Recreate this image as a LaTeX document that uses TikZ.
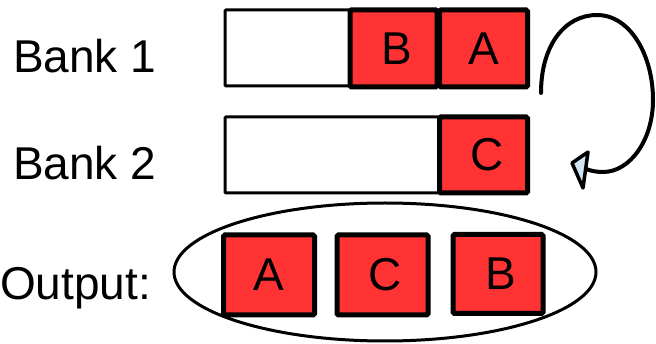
\documentclass[tikz,border=0pt]{standalone}
\usepackage{fontspec}
\setmainfont{Liberation Sans}
\usetikzlibrary{shapes.geometric}
\definecolor{cellred}{HTML}{FF3333}
\definecolor{tipblue}{HTML}{CFE3F2}
\begin{document}
\begin{tikzpicture}[x=1pt,y=-1pt,
  every node/.style={inner sep=0pt,outer sep=0pt},
  label/.style={font=\fontsize{46}{50}\selectfont,anchor=base west},
  bankbox/.style={draw,line width=3pt,fill=white,rounded corners=1pt},
  cell/.style={draw,line width=5pt,fill=cellred,rounded corners=1.5pt,
    font=\fontsize{46}{50}\selectfont},
  loop/.style={line width=4pt,line cap=round},
  tip/.style={draw,line width=3.5pt,line join=round,fill=tipblue}]
\useasboundingbox (0,0) rectangle (656,344);

% row labels
\node[label] (l1) at (13,73) {Bank 1};
\node[label] (l2) at (13,180) {Bank 2};
\node[label] (l3) at (0,300) {Output:};

% bank 1
\node[bankbox,minimum width=303pt,minimum height=76pt] (b1) at (376.5,48) {};
\node[cell,minimum width=87pt,minimum height=77pt] (cB) at (393.5,48.5) {\hspace{6pt}B};
\node[cell,minimum width=88pt,minimum height=77pt] (cA) at (483.5,48.5) {A};

% bank 2
\node[bankbox,minimum width=303pt,minimum height=76pt] (b2) at (376.5,155) {};
\node[cell,minimum width=88pt,minimum height=76pt] (cC) at (483.5,155) {\hspace{8pt}C};

% output
\node[draw,line width=3pt,ellipse,minimum width=422pt,minimum height=138pt] (out) at (385,272) {};
\node[cell,minimum width=91pt,minimum height=80pt] (oA) at (269,275) {A};
\node[cell,minimum width=91pt,minimum height=80pt] (oC) at (382.5,275) {\hspace{6pt}C};
\node[cell,minimum width=90pt,minimum height=79pt] (oB) at (498,274) {\hspace{6pt}B};

% loop carrying A from bank 1 down to bank 2
\coordinate (ls) at (541,93);
\coordinate (le) at (586,169);
\draw[loop] (ls) .. controls (541,45) and (565,15) .. (597,15)
  .. controls (630,15) and (653,55) .. (653,100)
  .. controls (653,140) and (630,172) .. (603,172)
  .. controls (597,172) and (591,171) .. (le);
% its arrowhead
\draw[tip] (572,163) -- (588,152) -- (583,188) -- cycle;
\end{tikzpicture}
\end{document}
